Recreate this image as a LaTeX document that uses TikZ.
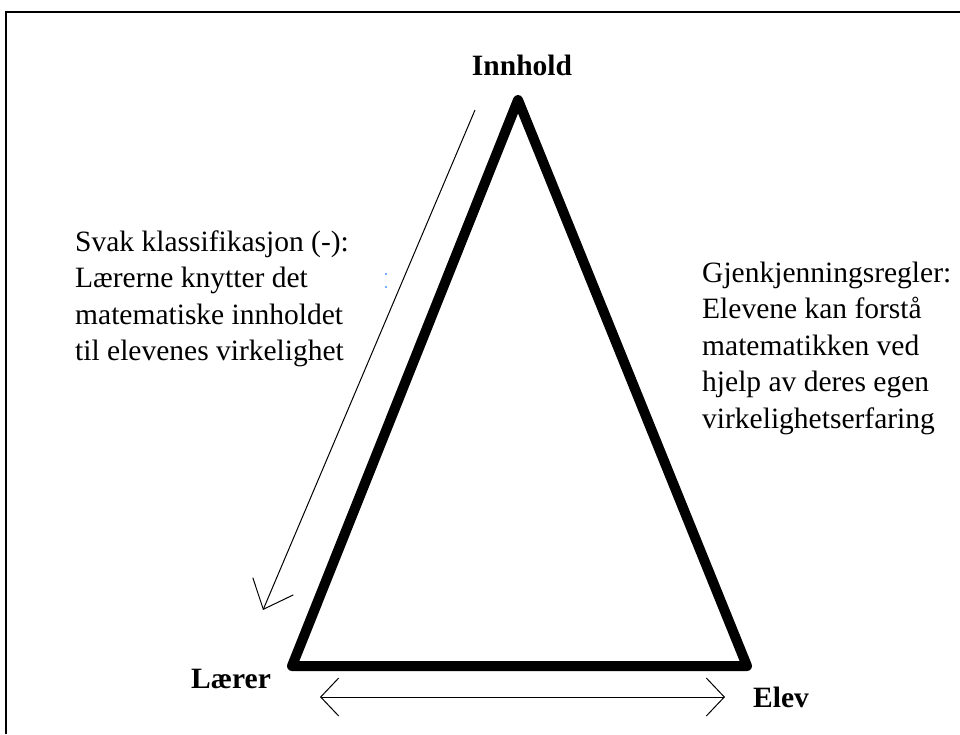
\documentclass[tikz,border=0pt]{standalone}
\usepackage{fontspec}
\setmainfont{Liberation Serif}
\usetikzlibrary{arrows.meta}
\tikzset{
  body/.style={font=\fontsize{29.5}{36.5}\selectfont, inner sep=0pt, align=left, anchor=base west},
  corner/.style={font=\fontsize{29.5}{36.5}\selectfont\bfseries, inner sep=0pt},
  edge/.style={line width=10pt, line join=round, line cap=round},
  thinarrow/.style={line width=1pt, -{Straight Barb[length=25pt, width=44pt, line width=1pt]}},
  dblarrow/.style={line width=1pt, {Straight Barb[length=18pt, width=38pt, line width=1pt]}-{Straight Barb[length=18pt, width=38pt, line width=1pt]}},
  framestroke/.style={line width=2pt}
}
\begin{document}
\begin{tikzpicture}[x=1pt, y=-1pt]
  \useasboundingbox (0,0) rectangle (960,734);
  \fill[white] (0,0) rectangle (960,734);

  % frame (top and left edges)
  \draw[framestroke] (6,734) -- (6,12) -- (960,12);

  % triangle corners
  \coordinate (top) at (518,100);
  \coordinate (bl) at (292,666);
  \coordinate (br) at (747,666);
  \draw[edge] (top) -- (bl) -- (br) -- cycle;

  % corner labels
  \node[corner, anchor=base] (innhold) at (522,75) {Innhold};
  \node[corner, anchor=base west] (laerer) at (191,688) {Lærer};
  \node[corner, anchor=base west] (elev) at (753,707) {Elev};

  % arrow along the left side
  \coordinate (la1) at (475,110);
  \coordinate (la2) at (263,610);
  \draw[thinarrow] (la1) -- (la2);

  % double arrow below the base
  \coordinate (ba1) at (320,697);
  \coordinate (ba2) at (725,697);
  \draw[dblarrow] (ba1) -- (ba2);

  % small blue marks
  \fill[blue!60!cyan!70] (386,274) circle (1.2pt);
  \fill[blue!60!cyan!70] (386,287) circle (1.2pt);

  % side texts (anchored at the baseline of the last line)
  \node[body] (left) at (75,360.5) {Svak klassifikasjon (-):\\Lærerne knytter det\\matematiske innholdet\\til elevenes virkelighet};
  \node[body] (right) at (702,428) {Gjenkjenningsregler:\\Elevene kan forstå\\matematikken ved\\hjelp av deres egen\\virkelighetserfaring};
\end{tikzpicture}
\end{document}
